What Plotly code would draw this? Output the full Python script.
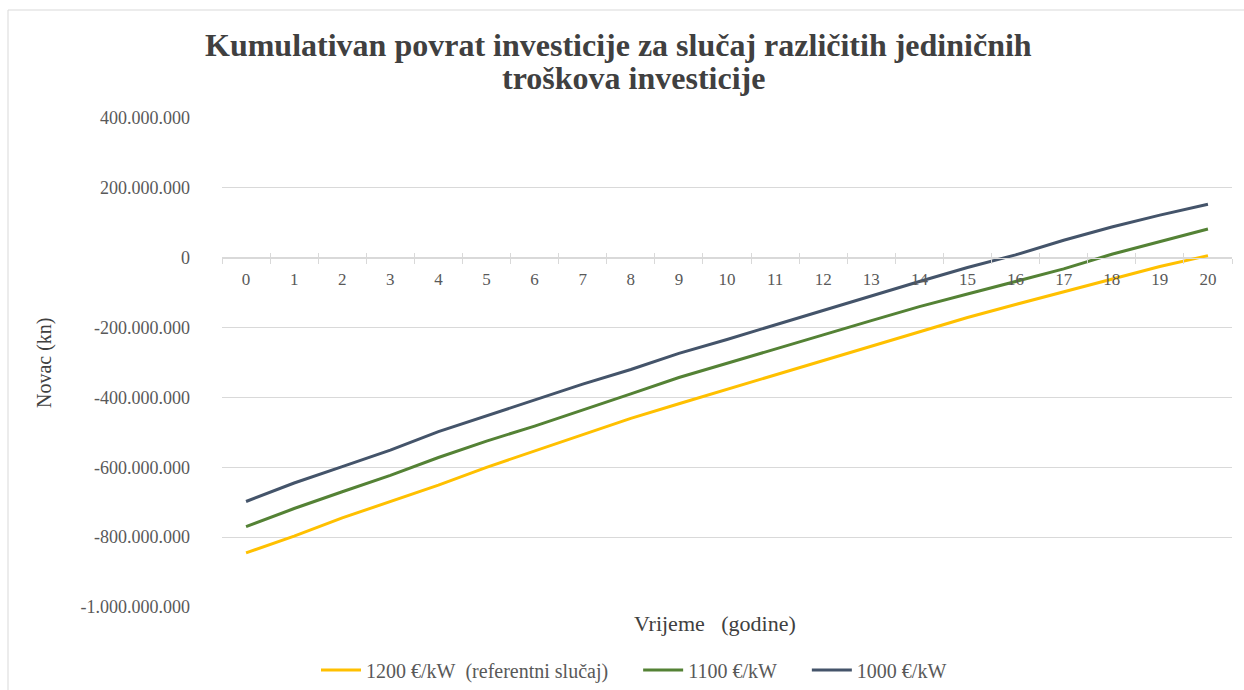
import plotly.graph_objects as go

# Years of the investment period
years = [str(y) for y in range(0, 21)]

# Cumulative return (kn) for each unit investment cost
cost_1200 = [-845e6, -797e6, -745e6, -698e6, -651e6, -600e6, -553e6, -506e6, -460e6, -418e6,
             -377e6, -336e6, -295e6, -253e6, -212e6, -171e6, -134e6, -97e6, -61e6, -25e6, 6e6]
cost_1100 = [-770e6, -718e6, -670e6, -623e6, -572e6, -525e6, -482e6, -437e6, -390e6, -343e6,
             -303e6, -262e6, -221e6, -180e6, -140e6, -104e6, -68e6, -32e6, 10e6, 47e6, 82e6]
cost_1000 = [-698e6, -645e6, -598e6, -551e6, -498e6, -452e6, -408e6, -362e6, -320e6, -274e6,
             -234e6, -192e6, -150e6, -109e6, -68e6, -28e6, 8e6, 50e6, 88e6, 122e6, 153e6]

NB = "\u00a0"
series_names = ["1200" + NB + "€/kW" + NB * 2 + "(referentni slučaj)" + NB * 5,
                "1100 €/kW" + NB * 5,
                "1000 €/kW"]
series_colors = ["#FFC000", "#548235", "#44546A"]

y_tick_vals = [400e6, 200e6, 0, -200e6, -400e6, -600e6, -800e6, -1000e6]
y_tick_text = ["400.000.000", "200.000.000", "0", "-200.000.000", "-400.000.000",
               "-600.000.000", "-800.000.000", "-1.000.000.000"]

title_lines = ["Kumulativan povrat investicije za slučaj različitih jediničnih",
               "troškova investicije"]

Y_MIN, Y_MAX = -1000e6, 400e6
FONT = "Liberation Serif"
GRAY = "#595959"
DARK = "#404040"
GRID = "#d9d9d9"

# Plot-area geometry in pixels
L, R, T, B = 222, 12, 118, 83
PW, PH = 1244 - L - R, 690 - T - B


def px_x(x):
    return (x - L) / PW


def px_y(y):
    return (690 - B - y) / PH


fig = go.Figure()
for vals, name, color in zip([cost_1200, cost_1100, cost_1000], series_names, series_colors):
    fig.add_trace(go.Scatter(x=years, y=vals, mode="lines", name=name,
                             line=dict(color=color, width=3)))

# Category axis crossing the value axis at zero
zero_pos = (0 - Y_MIN) / (Y_MAX - Y_MIN)

fig.update_layout(
    template="none",
    width=1244, height=690,
    margin=dict(l=L, r=R, t=T, b=B),
    paper_bgcolor="white", plot_bgcolor="white",
    font=dict(family=FONT, color=GRAY, size=18),
    xaxis=dict(
        type="category", range=[-0.5, 20.5],
        anchor="free", position=zero_pos,
        showline=True, linecolor=GRID, linewidth=1,
        ticks="outside", tickson="boundaries", ticklen=5, tickcolor=GRID,
        ticklabelstandoff=6,
        showgrid=False, zeroline=False,
        tickfont=dict(family=FONT, size=17, color=GRAY),
    ),
    xaxis2=dict(
        type="category", range=[-0.5, 20.5], overlaying="x", matches="x",
        anchor="free", position=zero_pos, side="bottom",
        showline=False, ticks="inside", tickson="boundaries", ticklen=5, tickcolor=GRID,
        showticklabels=False, showgrid=False, zeroline=False,
    ),
    yaxis=dict(
        range=[Y_MIN, Y_MAX],
        tickvals=y_tick_vals, ticktext=y_tick_text,
        showgrid=True, gridcolor=GRID, gridwidth=1,
        zeroline=False, showline=False, ticks="",
        ticklabelstandoff=31,
        tickfont=dict(family=FONT, size=18, color=GRAY),
    ),
    legend=dict(
        orientation="h", x=634 / 1244, xref="container", xanchor="center",
        y=20 / 690, yref="container", yanchor="middle",
        font=dict(family=FONT, size=20, color=GRAY),
        itemwidth=40, tracegroupgap=0,
    ),
    showlegend=True,
)

# Empty trace on the overlay axis so its ticks render
fig.add_trace(go.Scatter(x=years, y=[None] * len(years), xaxis="x2",
                         showlegend=False, hoverinfo="skip"))

# Two-line chart title
for text, cx, cy in zip(title_lines, [618, 633], [45, 78]):
    fig.add_annotation(text=f"<b>{text}</b>", xref="paper", yref="paper",
                       x=px_x(cx), y=px_y(cy), xanchor="center", yanchor="middle",
                       showarrow=False, font=dict(family=FONT, size=32, color=DARK))

fig.add_annotation(text="Vrijeme" + NB * 3 + "(godine)", xref="paper", yref="paper",
                   x=px_x(715), y=px_y(623), xanchor="center", yanchor="middle",
                   showarrow=False, font=dict(family=FONT, size=22, color=DARK))
fig.add_annotation(text="Novac (kn)", xref="paper", yref="paper",
                   x=px_x(44), y=px_y(363), xanchor="center", yanchor="middle",
                   textangle=-90, showarrow=False,
                   font=dict(family=FONT, size=20, color=DARK))

# Chart frame
fig.add_shape(type="rect", xref="paper", yref="paper",
              x0=px_x(8), x1=1.05, y0=-0.3, y1=px_y(10),
              line=dict(color=GRID, width=1), fillcolor="rgba(0,0,0,0)", layer="below")

fig.write_html("out.html")
